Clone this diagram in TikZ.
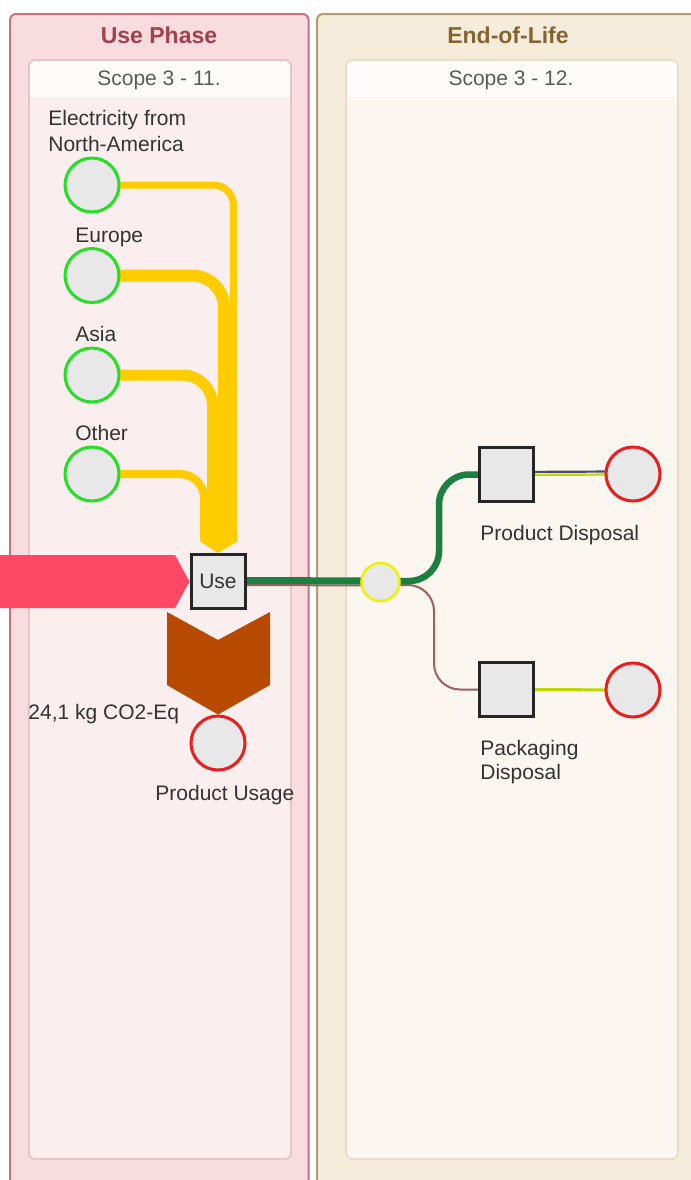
\documentclass[tikz,border=0pt]{standalone}
\usepackage{fontspec}
\setmainfont{Liberation Sans}
\pgfdeclarelayer{back}
\pgfdeclarelayer{bg}
\pgfsetlayers{back,bg,main}

\definecolor{usefill}{HTML}{F8DCDF}
\definecolor{usedraw}{HTML}{C8737C}
\definecolor{usetitle}{HTML}{A5404E}
\definecolor{useinner}{HTML}{FBEEEE}
\definecolor{useinnerdraw}{HTML}{E6C3C6}
\definecolor{eolfill}{HTML}{F6ECDC}
\definecolor{eoldraw}{HTML}{B39B6E}
\definecolor{eoltitle}{HTML}{86642F}
\definecolor{eolinner}{HTML}{FBF6EF}
\definecolor{eolinnerdraw}{HTML}{E8DCC6}
\definecolor{header}{HTML}{FEFCFB}
\definecolor{nodefill}{HTML}{E8E8E8}
\definecolor{srcgreen}{HTML}{22E022}
\definecolor{sinkred}{HTML}{EE1C1C}
\definecolor{splityellow}{HTML}{F0F000}
\definecolor{elec}{HTML}{FFCC00}
\definecolor{flowgreen}{HTML}{1B7F40}
\definecolor{flowbrown}{HTML}{9E5E5E}
\definecolor{inflow}{HTML}{FF4766}
\definecolor{emission}{HTML}{B84A00}
\definecolor{waste}{HTML}{BCD800}
\definecolor{wasteblue}{HTML}{4A4A6A}
\definecolor{labeltext}{HTML}{333333}
\definecolor{scopetext}{HTML}{5A5A5A}

\tikzset{
  lbl/.style={inner sep=0pt, text=labeltext, font=\fontsize{10.5}{13}\selectfont},
  scopelbl/.style={inner sep=0pt, text=scopetext, font=\fontsize{10.5}{13}\selectfont},
  paneltitle/.style={inner sep=0pt, font=\fontsize{11.5}{13}\selectfont\bfseries},
  srcnode/.style={circle, minimum size=27pt, inner sep=0pt, draw=srcgreen, line width=1.5pt, fill=nodefill},
  sinknode/.style={circle, minimum size=27pt, inner sep=0pt, draw=sinkred, line width=1.5pt, fill=nodefill},
  procnode/.style={rectangle, minimum size=27pt, inner sep=0pt, draw=black!85, line width=1.5pt, fill=nodefill,
    text=labeltext, font=\fontsize{10.5}{13}\selectfont},
  splitnode/.style={circle, minimum size=19pt, inner sep=0pt, draw=splityellow, line width=1.25pt, fill=nodefill},
  elecflow/.style={draw=elec, line cap=butt},
}

\begin{document}
\begin{tikzpicture}[x=0.5pt, y=-0.5pt]
\useasboundingbox (0,0) rectangle (691,1180);

\begin{pgfonlayer}{back}
  % phase panels, running off the lower and right edges
  \begin{scope}
    \clip (0,0) rectangle (691,1180);
    \draw[usedraw, fill=usefill, line width=1pt, rounded corners=3pt] (10,14) rectangle (308.5,1210);
    \draw[eoldraw, fill=eolfill, line width=1pt, rounded corners=3pt] (317,14) rectangle (730,1210);
  \end{scope}
  % scope boxes with their header strips
  \begin{scope}
    \clip[rounded corners=3pt] (29,60) rectangle (291,1159);
    \fill[useinner] (29,60) rectangle (291,1159);
    \fill[header] (29,60) rectangle (291,97);
  \end{scope}
  \draw[useinnerdraw, line width=0.9pt, rounded corners=3pt] (29,60) rectangle (291,1159);
  \begin{scope}
    \clip[rounded corners=3pt] (346,60) rectangle (678,1159);
    \fill[eolinner] (346,60) rectangle (678,1159);
    \fill[header] (346,60) rectangle (678,97);
  \end{scope}
  \draw[eolinnerdraw, line width=0.9pt, rounded corners=3pt] (346,60) rectangle (678,1159);
\end{pgfonlayer}

\node[paneltitle, text=usetitle, anchor=base] (tuse) at (159,43) {Use Phase};
\node[paneltitle, text=eoltitle, anchor=base] (teol) at (508,43) {End-of-Life};
\node[scopelbl, anchor=base] (s11) at (159,85) {Scope 3 - 11.};
\node[scopelbl, anchor=base] (s12) at (511,85) {Scope 3 - 12.};

% electricity sources
\node[srcnode] (na) at (92,185) {};
\node[srcnode] (eu) at (92,275.5) {};
\node[srcnode] (as) at (92,375) {};
\node[srcnode] (ot) at (92,474) {};
\node[lbl, anchor=base west] (lna1) at (48,125) {Electricity from};
\node[lbl, anchor=base west] (lna2) at (48,151) {North-America};
\node[lbl, anchor=base west] (leu) at (75,242) {Europe};
\node[lbl, anchor=base west] (las) at (75,341) {Asia};
\node[lbl, anchor=base west] (lot) at (75,440) {Other};

% process nodes
\node[procnode] (use) at (218,581.5) {Use};
\node[sinknode] (pu) at (218,743) {};
\node[lbl, anchor=base west] (lpu) at (155,800) {Product Usage};
\node[lbl, anchor=base west] (lco) at (28,719) {24,1 kg CO2-Eq};
\node[splitnode] (split) at (380.5,582) {};
\node[procnode] (pd) at (506.5,474.5) {};
\node[procnode] (pkd) at (506.5,689.5) {};
\node[sinknode] (pdo) at (633,474) {};
\node[sinknode] (pkdo) at (633,690) {};
\node[lbl, anchor=base west] (lpd) at (480,540) {Product Disposal};
\node[lbl, anchor=base west] (lpkd1) at (480,755) {Packaging};
\node[lbl, anchor=base west] (lpkd2) at (480,779) {Disposal};

% bundle ends and bend columns
\coordinate (naend) at (233.5,539);
\coordinate (euend) at (224,539);
\coordinate (asend) at (212.5,539);
\coordinate (otend) at (204,539);
\coordinate (gx) at (439,0);
\coordinate (bx) at (434,0);

\begin{pgfonlayer}{bg}
  % electricity flows merging into the use process
  \draw[elecflow, line width=3.5pt, rounded corners=10pt] (na.center) -| (naend);
  \draw[elecflow, line width=6pt, rounded corners=16pt] (eu.center) -| (euend);
  \draw[elecflow, line width=5.5pt, rounded corners=15pt] (as.center) -| (asend);
  \draw[elecflow, line width=4pt, rounded corners=12pt] (ot.center) -| (otend);
  % use -> split
  \draw[flowbrown, line width=1pt] ([yshift=-1.75pt]use.east) -- ([yshift=-1.75pt]split.center);
  \draw[flowgreen, line width=3.5pt] ([yshift=0.5pt]use.east) -- ([yshift=0.5pt]split.center);
  % split -> disposal processes
  \draw[flowbrown, line width=1pt, rounded corners=13pt]
    ([yshift=-1.5pt]split.center) -- ([yshift=-1.5pt]split.center -| bx) -- (bx |- pkd.west) -- (pkd.west);
  \draw[flowgreen, line width=3.25pt, rounded corners=15pt]
    ([yshift=0.5pt]split.center) -- ([yshift=0.5pt]split.center -| gx) -- (gx |- pd.west) -- (pd.west);
  % disposal processes -> outputs
  \draw[wasteblue, line width=1.1pt] ([yshift=1.3pt]pd.east) -- ([yshift=1.3pt]pdo.center);
  \draw[waste, line width=1.1pt] ([yshift=-0.2pt]pd.east) -- ([yshift=-0.2pt]pdo.center);
  \draw[waste, line width=1.5pt] (pkd.east) -- (pkdo.center);
\end{pgfonlayer}

% tip of the electricity bundle
\fill[elec] (200,538) -- (237.5,538) -- (237.5,541) -- (use.north) -- (200,541) -- cycle;
% incoming product flow
\fill[inflow] (-5,555) -- (175,555) -- (use.west) -- (175,608) -- (-5,608) -- cycle;
% emission chevron
\fill[emission] (167,612) -- (218,640) -- (270,612) -- (270,685) -- (pu.north) -- (167,685) -- cycle;
\end{tikzpicture}
\end{document}
